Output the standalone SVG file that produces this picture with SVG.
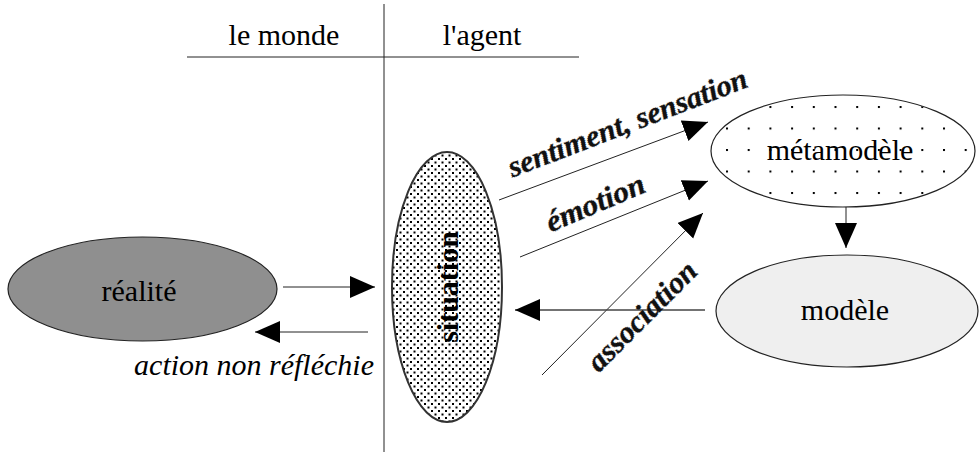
<svg xmlns="http://www.w3.org/2000/svg" width="980" height="452" viewBox="0 0 980 452">
<style>
text{font-family:'Liberation Serif',serif;font-size:30px;fill:#000}
.i{font-style:italic}
.deco{font-style:italic;font-weight:bold;fill:#111;stroke:#777;stroke-width:1.2;stroke-dasharray:1 1;paint-order:stroke}
.ln{stroke:#222;stroke-width:1;fill:none}
.e{stroke:#222;stroke-width:1.2}
</style>
<defs>
<marker id="ah" markerUnits="userSpaceOnUse" markerWidth="26" markerHeight="24" refX="25" refY="11" orient="auto">
<path d="M0,0 L25,11 L0,22 z" fill="#000"/>
</marker>
<pattern id="dense" patternUnits="userSpaceOnUse" width="7" height="7">
<rect width="7" height="7" fill="#fff"/>
<rect x="0.5" y="0.5" width="2" height="2" fill="#000"/>
<rect x="4" y="4" width="2" height="2" fill="#000"/>
</pattern>
<pattern id="sparse" patternUnits="userSpaceOnUse" x="726" y="106" width="21.7" height="21.5">
<rect width="21.7" height="21.5" fill="#fff"/>
<rect x="0" y="0" width="2" height="2" fill="#000"/>
</pattern>
</defs>
<g id="frame">
<line class="ln" x1="384" y1="4" x2="384" y2="452"/>
<line class="ln" x1="187" y1="57" x2="579" y2="57"/>
<text font-family="Liberation Serif, serif" x="284" y="45" text-anchor="middle">le monde</text>
<text font-family="Liberation Serif, serif" x="482" y="45" text-anchor="middle">l'agent</text>
</g>
<g id="realite">
<ellipse class="e" cx="142.5" cy="289" rx="134.5" ry="52" fill="#8f8f8f"/>
<text font-family="Liberation Serif, serif" x="139" y="301" text-anchor="middle">réalité</text>
</g>
<g id="situation">
<ellipse cx="447" cy="287" rx="55" ry="135" fill="url(#dense)" stroke="#333" stroke-width="2"/>
<text font-family="Liberation Serif, serif" font-weight="bold" transform="translate(458,287) rotate(-90)" x="0" y="0" text-anchor="middle">situation</text>
</g>
<g id="metamodele">
<ellipse class="e" cx="843" cy="151" rx="132" ry="56" fill="url(#sparse)"/>
<text font-family="Liberation Serif, serif" x="840" y="160" text-anchor="middle">métamodèle</text>
</g>
<g id="modele">
<ellipse class="e" cx="847" cy="311" rx="131" ry="56" fill="#efefef"/>
<text font-family="Liberation Serif, serif" x="845" y="320" text-anchor="middle">modèle</text>
</g>
<g id="connectors">
<line class="ln" x1="283" y1="287" x2="375" y2="287" marker-end="url(#ah)"/>
<line class="ln" x1="368" y1="332" x2="255" y2="332" marker-end="url(#ah)"/>
<line class="ln" x1="499" y1="200" x2="708" y2="122" marker-end="url(#ah)"/>
<line class="ln" x1="520" y1="257" x2="708" y2="181" marker-end="url(#ah)"/>
<line class="ln" x1="542" y1="375" x2="703" y2="213" marker-end="url(#ah)"/>
<line class="ln" x1="846" y1="207" x2="846" y2="248" marker-end="url(#ah)"/>
<line x1="705" y1="310" x2="515" y2="310" stroke="#444" stroke-width="1.5" marker-end="url(#ah)"/>
<text class="deco" font-family="Liberation Serif, serif" transform="translate(631,132) rotate(-21)" x="0" y="0" text-anchor="middle" textLength="254" lengthAdjust="spacingAndGlyphs">sentiment, sensation</text>
<text class="deco" font-family="Liberation Serif, serif" transform="translate(599,212) rotate(-23)" x="0" y="0" text-anchor="middle" textLength="105" lengthAdjust="spacingAndGlyphs">émotion</text>
<text class="deco" font-family="Liberation Serif, serif" transform="translate(649,323) rotate(-45)" x="0" y="0" text-anchor="middle" textLength="142" lengthAdjust="spacingAndGlyphs">association</text>
<text class="i" font-family="Liberation Serif, serif" x="374" y="375" text-anchor="end">action non réfléchie</text>
</g>
</svg>
